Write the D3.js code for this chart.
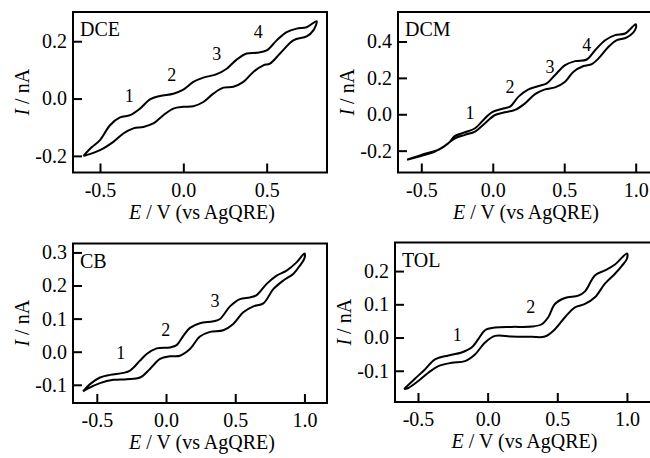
<!DOCTYPE html>
<html>
<head>
<meta charset="utf-8">
<script src="https://cdn.jsdelivr.net/npm/d3@7"></script>
<style>
  body { margin: 0; background: #fff; }
  .axis text { font-size: 20px; fill: #000; }
  .axis line { stroke: #000; stroke-width: 2; }
  .axis path { display: none; }
</style>
</head>
<body>
<div id="chart"></div>
<script>
// forward sweep (upper branch) and reverse sweep (lower branch), [E (V), I (nA)]
var dceForward = [[-0.6,-0.2],[-0.55,-0.17],[-0.5,-0.145],[-0.44,-0.093],[-0.38,-0.066],[-0.32,-0.058],[-0.26,-0.035],
  [-0.2,-0.003],[-0.14,0.009],[-0.06,0.017],[0.0,0.031],[0.06,0.058],[0.12,0.073],[0.2,0.085],[0.26,0.104],
  [0.32,0.136],[0.38,0.157],[0.44,0.16],[0.5,0.168],[0.56,0.203],[0.62,0.232],[0.68,0.244],[0.74,0.249],[0.8,0.27]];
var dceReverse = [[0.8,0.27],[0.78,0.238],[0.74,0.217],[0.66,0.203],[0.58,0.157],[0.52,0.122],[0.48,0.116],[0.42,0.093],
  [0.36,0.058],[0.3,0.041],[0.24,0.038],[0.18,0.017],[0.12,-0.012],[0.06,-0.027],[0.0,-0.029],[-0.06,-0.035],
  [-0.12,-0.058],[-0.18,-0.087],[-0.24,-0.099],[-0.3,-0.104],[-0.36,-0.122],[-0.42,-0.151],[-0.5,-0.18],[-0.58,-0.197],[-0.6,-0.2]];

var dcmForward = [[-0.6,-0.25],[-0.5,-0.223],[-0.38,-0.195],[-0.31,-0.159],[-0.264,-0.119],[-0.194,-0.099],[-0.124,-0.077],
  [-0.054,-0.022],[-0.007,0.011],[0.063,0.029],[0.121,0.042],[0.18,0.097],[0.25,0.137],[0.32,0.155],[0.378,0.17],
  [0.436,0.216],[0.506,0.27],[0.576,0.292],[0.658,0.301],[0.716,0.352],[0.786,0.407],[0.856,0.435],[0.926,0.444],[1.0,0.495]];
var dcmReverse = [[1.0,0.495],[1.0,0.471],[0.938,0.422],[0.868,0.407],[0.81,0.371],[0.74,0.307],[0.693,0.276],[0.635,0.265],
  [0.565,0.234],[0.506,0.179],[0.436,0.148],[0.366,0.137],[0.296,0.111],[0.226,0.06],[0.156,0.024],[0.086,0.011],
  [0.016,-0.004],[-0.054,-0.049],[-0.124,-0.095],[-0.194,-0.113],[-0.264,-0.132],[-0.334,-0.172],[-0.404,-0.205],
  [-0.497,-0.228],[-0.6,-0.25]];

var cbForward = [[-0.6,-0.12],[-0.549,-0.098],[-0.477,-0.078],[-0.404,-0.07],[-0.308,-0.064],[-0.26,-0.057],[-0.188,-0.027],
  [-0.14,-0.007],[-0.067,0.01],[0.029,0.013],[0.077,0.02],[0.125,0.048],[0.173,0.072],[0.245,0.086],[0.342,0.092],
  [0.39,0.099],[0.462,0.137],[0.534,0.159],[0.606,0.164],[0.655,0.171],[0.727,0.205],[0.799,0.23],[0.871,0.245],
  [0.943,0.27],[1.0,0.297]];
var cbReverse = [[1.0,0.297],[1.0,0.282],[0.967,0.26],[0.919,0.235],[0.847,0.215],[0.775,0.189],[0.703,0.146],[0.631,0.137],
  [0.558,0.119],[0.486,0.084],[0.414,0.065],[0.318,0.06],[0.245,0.046],[0.173,0.008],[0.101,-0.012],[0.029,-0.014],
  [-0.043,-0.022],[-0.116,-0.052],[-0.188,-0.078],[-0.284,-0.083],[-0.38,-0.085],[-0.477,-0.095],[-0.573,-0.113],[-0.6,-0.12]];

var tolForward = [[-0.6,-0.155],[-0.522,-0.124],[-0.45,-0.096],[-0.378,-0.066],[-0.282,-0.054],[-0.187,-0.045],[-0.115,-0.03],
  [-0.067,-0.005],[-0.019,0.022],[0.053,0.03],[0.172,0.032],[0.316,0.033],[0.388,0.04],[0.435,0.061],[0.483,0.101],
  [0.555,0.119],[0.651,0.126],[0.699,0.139],[0.77,0.187],[0.842,0.202],[0.914,0.22],[1.0,0.253]];
var tolReverse = [[1.0,0.253],[1.0,0.237],[0.962,0.215],[0.914,0.192],[0.842,0.162],[0.77,0.121],[0.699,0.101],[0.627,0.091],
  [0.555,0.061],[0.483,0.025],[0.411,0.003],[0.316,0.002],[0.172,0.003],[0.053,0.005],[-0.019,-0.015],[-0.091,-0.051],
  [-0.163,-0.071],[-0.258,-0.076],[-0.354,-0.086],[-0.426,-0.106],[-0.498,-0.131],[-0.57,-0.152],[-0.6,-0.155]];

// numbered redox waves: [label, E, I]
var dcePeaks = [["1",-0.324,-0.013],["2",-0.07,0.06],["3",0.2,0.133],["4",0.45,0.212]];
var dcmPeaks = [["1",-0.159,-0.026],["2",0.121,0.115],["3",0.401,0.225],["4",0.658,0.349]];
var cbPeaks = [["1",-0.327,-0.022],["2",-0.002,0.048],["3",0.354,0.134]];
var tolPeaks = [["1",-0.218,-0.01],["2",0.309,0.075]];

var dceXTicks = [-0.5, 0.0, 0.5], dceYTicks = [-0.2, 0.0, 0.2];
var dcmXTicks = [-0.5, 0.0, 0.5, 1.0], dcmYTicks = [-0.2, 0.0, 0.2, 0.4];
var cbXTicks = [-0.5, 0.0, 0.5, 1.0], cbYTicks = [-0.1, 0.0, 0.1, 0.2, 0.3];
var tolXTicks = [-0.5, 0.0, 0.5, 1.0], tolYTicks = [-0.1, 0.0, 0.1, 0.2];

var serif = "'Liberation Serif', 'DejaVu Serif', serif";

var panels = [
  {name: "DCE", fwd: dceForward, rev: dceReverse, peaks: dcePeaks, xt: dceXTicks, yt: dceYTicks,
   left: 73, right: 327, top: 12, bottom: 172.5, xDom: [-0.662, 0.862], yDom: [-0.258, 0.302]},
  {name: "DCM", fwd: dcmForward, rev: dcmReverse, peaks: dcmPeaks, xt: dcmXTicks, yt: dcmYTicks,
   left: 398, right: 653, top: 12, bottom: 172.5, xDom: [-0.663, 1.121], yDom: [-0.320, 0.562]},
  {name: "CB", fwd: cbForward, rev: cbReverse, peaks: cbPeaks, xt: cbXTicks, yt: cbYTicks,
   left: 73, right: 327, top: 243.5, bottom: 403, xDom: [-0.672, 1.163], yDom: [-0.155, 0.327]},
  {name: "TOL", fwd: tolForward, rev: tolReverse, peaks: tolPeaks, xt: tolXTicks, yt: tolYTicks,
   left: 395, right: 653, top: 242.5, bottom: 402, xDom: [-0.665, 1.187], yDom: [-0.194, 0.286]}
];

var svg = d3.select("#chart").append("svg")
  .attr("width", 650)
  .attr("height", 458)
  .style("display", "block");

var fmt = function(d) { return d.toFixed(1); };

panels.forEach(function(p) {
  var x = d3.scaleLinear().domain(p.xDom).range([p.left, p.right]);
  var y = d3.scaleLinear().domain(p.yDom).range([p.bottom, p.top]);
  var g = svg.append("g").attr("class", "panel");

  g.append("g")
    .attr("class", "axis")
    .attr("transform", "translate(0," + p.bottom + ")")
    .call(d3.axisBottom(x).tickValues(p.xt).tickFormat(fmt).tickSize(-9).tickPadding(10))
    .attr("font-family", serif);

  g.append("g")
    .attr("class", "axis")
    .attr("transform", "translate(" + p.left + ",0)")
    .call(d3.axisLeft(y).tickValues(p.yt).tickFormat(fmt).tickSize(-9).tickPadding(6))
    .attr("font-family", serif);

  g.append("rect")
    .attr("x", p.left)
    .attr("y", p.top)
    .attr("width", p.right - p.left)
    .attr("height", p.bottom - p.top)
    .attr("fill", "none")
    .attr("stroke", "#000")
    .attr("stroke-width", 2);

  var line = d3.line()
    .x(function(d) { return x(d[0]); })
    .y(function(d) { return y(d[1]); })
    .curve(d3.curveCatmullRom.alpha(0.5));

  g.append("path")
    .attr("d", line(p.fwd.concat(p.rev.slice(1))))
    .attr("fill", "none")
    .attr("stroke", "#000")
    .attr("stroke-width", 2)
    .attr("stroke-linejoin", "round");

  g.selectAll(".peak")
    .data(p.peaks)
    .enter()
    .append("text")
    .attr("class", "peak")
    .attr("x", function(d) { return x(d[1]); })
    .attr("y", function(d) { return y(d[2]); })
    .attr("text-anchor", "middle")
    .attr("font-family", serif)
    .attr("font-size", 18)
    .text(function(d) { return d[0]; });

  g.append("text")
    .attr("x", p.left + 7)
    .attr("y", p.top + 24)
    .attr("font-family", serif)
    .attr("font-size", 20)
    .text(p.name);

  var xt = g.append("text")
    .attr("x", (p.left + Math.min(p.right, 650)) / 2 + 2)
    .attr("y", p.bottom + 46)
    .attr("text-anchor", "middle")
    .attr("font-family", serif)
    .attr("font-size", 20);
  xt.append("tspan").attr("font-style", "italic").text("E");
  xt.append("tspan").text(" / V (vs AgQRE)");

  var yt = g.append("text")
    .attr("transform", "translate(" + (p.left - 44) + "," + ((p.top + p.bottom) / 2) + ") rotate(-90)")
    .attr("text-anchor", "middle")
    .attr("font-family", serif)
    .attr("font-size", 20);
  yt.append("tspan").attr("font-style", "italic").text("I");
  yt.append("tspan").text(" / nA");
});
</script>
</body>
</html>
